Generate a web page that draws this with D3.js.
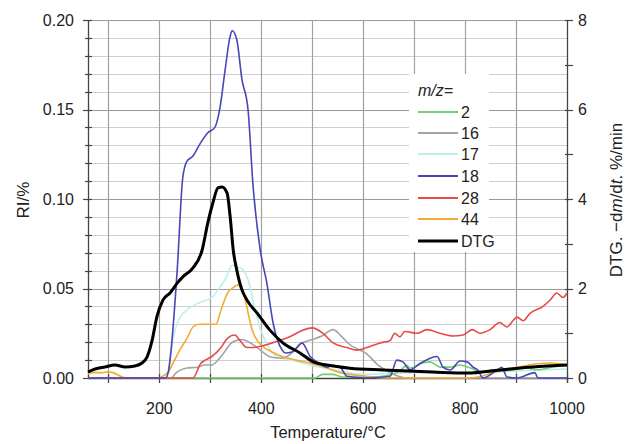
<!DOCTYPE html>
<html><head><meta charset="utf-8">
<script src="https://cdn.jsdelivr.net/npm/d3@7"></script>
<style>body{margin:0;background:#fff}svg{display:block;font-family:"Liberation Sans",Arial,sans-serif}</style>
</head><body><svg id="c" width="625" height="444"></svg>
<script>
// ---- data (Temperature °C, value) ----
const mz2 = [[60,0],[505,0],[520,0.002],[540,0.002],[560,0.0005],[620,0.0005],[650,0.0015],[672,0.004],[686,0.007],[692,0.0056],[717,0.0084],[731,0.009],[751,0.0061],[771,0.0061],[790,0.0073],[810,0.0056],[820,0.0045],[835,0.0034],[855,0.0034],[894,0.0045],[921,0.0056],[941,0.0045],[972,0.0061],[1000,0.0073]];
const mz16 = [[60,0],[222,0],[235,0.0034],[254,0.0056],[274,0.006],[290,0.0073],[303,0.0073],[315,0.010],[329,0.015],[343,0.020],[362,0.0215],[376,0.020],[392,0.017],[403,0.0145],[419,0.0117],[441,0.011],[460,0.014],[476,0.019],[500,0.0215],[519,0.0235],[541,0.027],[555,0.024],[572,0.019],[607,0.0135],[630,0.007],[660,0.002],[685,0],[1000,0]];
const mz17 = [[60,0],[215,0],[221,0.012],[231,0.027],[241,0.034],[254,0.038],[278,0.042],[303,0.045],[317,0.050],[331,0.056],[343,0.063],[352,0.062],[362,0.061],[374,0.055],[388,0.038],[400,0.026],[413,0.018],[431,0.012],[460,0.010],[500,0.007],[550,0.004],[600,0.002],[700,0.003],[800,0.003],[900,0.004],[1000,0.005]];
const mz18 = [[60,0],[212,0],[218,0.004],[235,0.06],[246,0.112],[254,0.121],[266,0.124],[276,0.129],[295,0.137],[309,0.140],[319,0.151],[329,0.172],[339,0.191],[343,0.194],[352,0.189],[362,0.167],[374,0.150],[384,0.107],[398,0.0715],[411,0.053],[423,0.031],[441,0.0156],[447,0.014],[460,0.0145],[470,0.017],[480,0.0196],[496,0.012],[515,0.008],[529,0.006],[541,0.007],[555,0.006],[568,0.001],[607,0],[653,0.001],[666,0.010],[678,0.009],[692,0.0045],[711,0.008],[745,0.012],[757,0.006],[771,0.0045],[790,0.0095],[804,0.009],[816,0.006],[825,0.0045],[835,0],[863,0.0045],[872,0.006],[882,0.0006],[902,0],[937,0.003],[943,0],[1000,0]];
const mz28 = [[60,0],[266,0],[281,0.008],[290,0.010],[303,0.012],[321,0.017],[333,0.022],[348,0.024],[358,0.021],[372,0.017],[384,0.017],[403,0.018],[436,0.021],[456,0.023],[476,0.026],[500,0.028],[521,0.025],[541,0.0196],[568,0.017],[588,0.0156],[607,0.017],[633,0.0196],[653,0.021],[662,0.025],[672,0.023],[682,0.026],[706,0.025],[725,0.027],[751,0.025],[776,0.0235],[796,0.024],[814,0.027],[829,0.025],[849,0.027],[868,0.031],[882,0.0285],[894,0.032],[902,0.034],[914,0.032],[927,0.036],[953,0.040],[967,0.0436],[980,0.0475],[992,0.045],[1000,0.0475]];
const mz44 = [[60,0.002],[66,0.003],[78,0.003],[89,0.003],[99,0.0034],[109,0.003],[127,0.0006],[138,0],[197,0],[211,0.0017],[217,0.003],[227,0.0084],[241,0.016],[254,0.022],[266,0.0285],[278,0.030],[295,0.030],[311,0.030],[321,0.038],[333,0.047],[347,0.051],[356,0.052],[362,0.050],[370,0.042],[376,0.034],[382,0.027],[392,0.021],[406,0.017],[421,0.0145],[441,0.012],[468,0.010],[500,0.008],[529,0.0056],[555,0.003],[607,0.001],[640,0],[806,0],[833,0.001],[853,0.003],[872,0.0045],[906,0.0061],[937,0.0078],[970,0.0084],[1000,0.0073]];
const dtg = [[60,0.134],[74,0.20],[93,0.246],[113,0.29],[133,0.246],[152,0.268],[166,0.335],[176,0.47],[186,0.85],[195,1.36],[207,1.74],[221,1.90],[235,2.12],[246,2.26],[266,2.46],[284,2.86],[295,3.46],[305,3.91],[315,4.25],[323,4.27],[333,4.13],[339,3.60],[345,2.86],[352,2.41],[362,1.97],[372,1.74],[392,1.45],[417,1.07],[443,0.78],[476,0.56],[502,0.36],[529,0.29],[574,0.22],[639,0.18],[737,0.134],[804,0.11],[868,0.18],[933,0.246],[1000,0.29]];

const legendLabels = ["2","16","17","18","28","44","DTG"];
const leftTicks = [0,0.05,0.10,0.15,0.20];
const rightTicks = [0,2,4,6,8];
const xLabelTicks = [200,400,600,800,1000];

// ---- layout ----
const L=88, R=567, T=20, B=378;
const svg=d3.select("#c");
const x=d3.scaleLinear().domain([60,1000]).range([L,R]);
const y=d3.scaleLinear().domain([0,0.20]).range([B,T]);
const y2=d3.scaleLinear().domain([0,8]).range([B,T]);

const g=svg.append("g");
// grid
const minorY=d3.range(0,0.2001,0.01);
minorY.forEach(v=>{
  const major=Math.abs(v/0.05-Math.round(v/0.05))<1e-6;
  g.append("line").attr("x1",L).attr("x2",R).attr("y1",Math.round(y(v))+0.5).attr("y2",Math.round(y(v))+0.5)
   .attr("stroke",major?"#9a9a9a":"#cfcfcf").attr("stroke-width",1.2);
});
d3.range(100,1000,100).forEach(t=>{
  g.append("line").attr("y1",T).attr("y2",B).attr("x1",Math.round(x(t))+0.5).attr("x2",Math.round(x(t))+0.5)
   .attr("stroke","#a0a0a0").attr("stroke-width",1.2);
});

// axes lines
const ax="#444";
g.append("line").attr("x1",L+0.5).attr("x2",L+0.5).attr("y1",T).attr("y2",B).attr("stroke",ax).attr("stroke-width",1.3);
g.append("line").attr("x1",R+0.5).attr("x2",R+0.5).attr("y1",T).attr("y2",B+5).attr("stroke",ax).attr("stroke-width",1.3);
g.append("line").attr("x1",L).attr("x2",R).attr("y1",B+0.5).attr("y2",B+0.5).attr("stroke",ax).attr("stroke-width",1.3);
// left ticks
minorY.forEach(v=>{
  const major=Math.abs(v/0.05-Math.round(v/0.05))<1e-6;
  g.append("line").attr("x1",major?L-5:L-3).attr("x2",L+4).attr("y1",Math.round(y(v))+0.5).attr("y2",Math.round(y(v))+0.5).attr("stroke",ax).attr("stroke-width",1.2);
});
// right ticks
d3.range(0,8.01,1).forEach(v=>{
  g.append("line").attr("x1",R-2).attr("x2",R+6).attr("y1",Math.round(y2(v))+0.5).attr("y2",Math.round(y2(v))+0.5).attr("stroke",ax).attr("stroke-width",1.2);
});
// bottom ticks
d3.range(100,1001,100).forEach(t=>{
  g.append("line").attr("y1",B-4).attr("y2",B+5).attr("x1",Math.round(x(t))+0.5).attr("x2",Math.round(x(t))+0.5).attr("stroke",ax).attr("stroke-width",1.2);
});

// tick labels
const fs=16;
leftTicks.forEach(v=>g.append("text").attr("x",L-14).attr("y",y(v)).attr("dy","0.35em").attr("text-anchor","end").attr("font-size",fs).attr("fill","#222").text(v.toFixed(2)));
rightTicks.forEach(v=>g.append("text").attr("x",R+11).attr("y",y2(v)).attr("dy","0.35em").attr("text-anchor","start").attr("font-size",fs).attr("fill","#222").text(v));
xLabelTicks.forEach(t=>g.append("text").attr("x",x(t)).attr("y",408).attr("dy","0.35em").attr("text-anchor","middle").attr("font-size",fs).attr("fill","#222").text(t));

// axis titles
svg.append("text").attr("transform","translate(23,200) rotate(-90)").attr("dy","0.35em").attr("text-anchor","middle").attr("font-size",17).attr("fill","#222").text("RI/%");
svg.append("text").attr("x",328).attr("y",438).attr("text-anchor","middle").attr("font-size",16.5).attr("fill","#222").text("Temperature/°C");
const rt=svg.append("text").attr("transform","translate(616,200) rotate(-90)").attr("dy","0.35em").attr("text-anchor","middle").attr("font-size",17).attr("fill","#222");
rt.append("tspan").text("DTG. −d");
rt.append("tspan").attr("font-style","italic").text("m");
rt.append("tspan").text("/d");
rt.append("tspan").attr("font-style","italic").text("t");
rt.append("tspan").text(". %/min");

// series
const colors={"2":"#72d072","16":"#a3a3a3","17":"#bdeeea","18":"#4747b8","28":"#e94a4a","44":"#f1ab35","DTG":"#000"};
const line=yy=>d3.line().x(d=>x(d[0])).y(d=>yy(d[1])).curve(d3.curveMonotoneX);
const plot=svg.append("g");
const order=[["17",mz17],["16",mz16],["2",mz2],["44",mz44],["28",mz28],["18",mz18]];
order.forEach(([k,data])=>{
  plot.append("path").attr("d",line(y)(data)).attr("fill","none").attr("stroke",colors[k]).attr("stroke-width",1.6).attr("stroke-linejoin","round");
});
plot.append("path").attr("d",line(y2)(dtg)).attr("fill","none").attr("stroke","#000").attr("stroke-width",3).attr("stroke-linejoin","round");

// legend
const lg=svg.append("g");
lg.append("rect").attr("x",409).attr("y",74).attr("width",80).attr("height",178).attr("fill","#fff");
lg.append("text").attr("x",418).attr("y",90).attr("dy","0.35em").attr("font-size",16).attr("font-style","italic").attr("fill","#222").text("m/z=");
const ly=[112,133,154,176,198,219,241];
legendLabels.forEach((k,i)=>{
  lg.append("line").attr("x1",418).attr("x2",458).attr("y1",ly[i]).attr("y2",ly[i]).attr("stroke",colors[k]).attr("stroke-width",k==="DTG"?3:1.8);
  lg.append("text").attr("x",461).attr("y",ly[i]).attr("dy","0.35em").attr("font-size",16).attr("fill","#222").text(k);
});
</script></body></html>
